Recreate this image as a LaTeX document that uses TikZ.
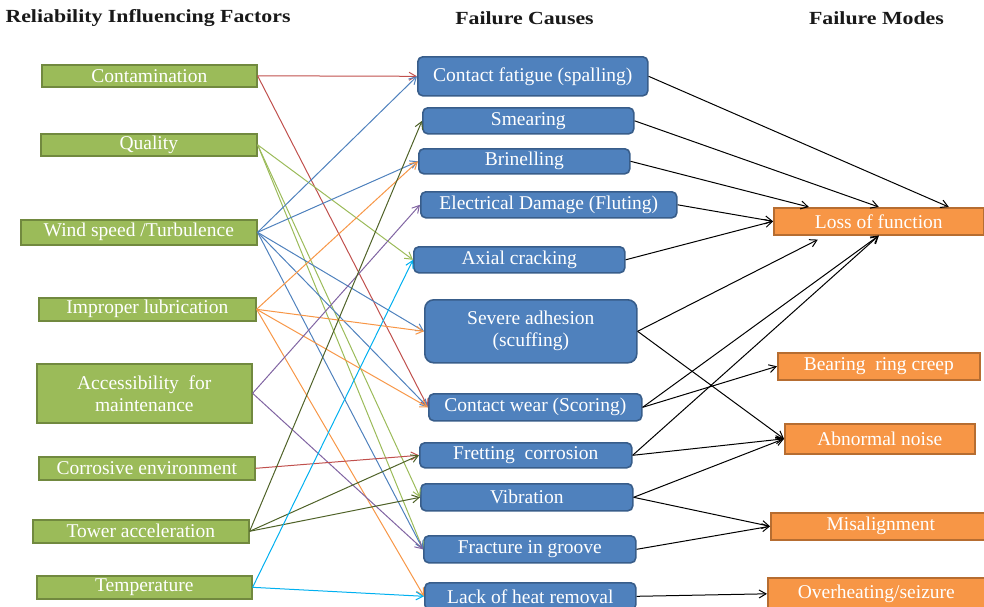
\documentclass[tikz,border=0pt]{standalone}
\usepackage{fontspec}
\setmainfont{Liberation Serif}
\usetikzlibrary{arrows.meta,calc}
\definecolor{gfill}{HTML}{9BBB59}
\definecolor{gdraw}{HTML}{71893F}
\definecolor{bfill}{HTML}{4F81BD}
\definecolor{bdraw}{HTML}{385D8A}
\definecolor{ofill}{HTML}{F79646}
\definecolor{odraw}{HTML}{B66D31}
\definecolor{cred}{HTML}{C0504D}
\definecolor{clgreen}{HTML}{9BBB59}
\definecolor{cblue}{HTML}{4F81BD}
\definecolor{corange}{HTML}{F79646}
\definecolor{cpurple}{HTML}{8064A2}
\definecolor{cdkgreen}{HTML}{4F6228}
\definecolor{ccyan}{HTML}{00B0F0}
\tikzset{
  basebox/.style={draw, line width=1.6pt, inner sep=0pt, text=white, align=center,
    anchor=north west, font=\fontsize{19.5}{22}\selectfont},
  gbox/.style={basebox, fill=gfill, draw=gdraw},
  bbox/.style={basebox, fill=bfill, draw=bdraw, rounded corners=5pt},
  obox/.style={basebox, fill=ofill, draw=odraw},
  header/.style={font=\bfseries\fontsize{18.5}{20}\selectfont, text=black!90, inner sep=0pt},
  conn/.style={line width=1pt, -{Straight Barb[length=7pt,width=8pt]}},
}
\begin{document}
\begin{tikzpicture}[x=1pt,y=-1pt]
\useasboundingbox (0,0) rectangle (984,606);
% headers
\node[header] (h1) at (148,18) {\scalebox{1.18}[1]{Reliability Influencing Factors}};
\node[header] (h2) at (524.5,18) {\scalebox{1.18}[1]{Failure Causes}};
\node[header] (h3) at (876.5,18) {\scalebox{1.18}[1]{Failure Modes}};
% left
\node[gbox, minimum width=215pt, minimum height=22pt] (cont) at (41,64) {Contamination};
\node[gbox, minimum width=216pt, minimum height=22pt] (qual) at (40,133) {Quality};
\node[gbox, minimum width=236pt, minimum height=25pt] (wind) at (20,219) {Wind speed /Turbulence};
\node[gbox, minimum width=217pt, minimum height=23pt] (lubr) at (38,297) {Improper lubrication};
\node[gbox, minimum width=215pt, minimum height=59pt] (acc) at (36,363) {Accessibility~ for\\maintenance};
\node[gbox, minimum width=216pt, minimum height=23pt] (corr) at (38,456) {Corrosive environment};
\node[gbox, minimum width=216pt, minimum height=23pt] (tower) at (32,519) {Tower acceleration};
\node[gbox, minimum width=215pt, minimum height=23pt] (temp) at (36,575) {Temperature};
% middle
\node[bbox, minimum width=230pt, minimum height=39pt] (fat) at (417,56) {Contact fatigue (spalling)};
\node[bbox, minimum width=211pt, minimum height=26pt] (smear) at (422,107) {Smearing};
\node[bbox, minimum width=211pt, minimum height=25pt] (brin) at (418,148) {Brinelling};
\node[bbox, minimum width=256pt, minimum height=26pt] (elec) at (420,191) {Electrical Damage (Fluting)};
\node[bbox, minimum width=211pt, minimum height=26pt] (axial) at (413,246) {Axial cracking};
\node[bbox, minimum width=212pt, minimum height=63pt, rounded corners=9pt] (sev) at (424,299) {Severe adhesion\\(scuffing)};
\node[bbox, minimum width=213pt, minimum height=27pt] (wear) at (428,393) {Contact wear (Scoring)};
\node[bbox, minimum width=212pt, minimum height=25pt] (fret) at (419,442) {Fretting~ corrosion};
\node[bbox, minimum width=212pt, minimum height=27pt] (vib) at (420,483) {Vibration};
\node[bbox, minimum width=212pt, minimum height=27pt] (frac) at (423,535) {Fracture in groove};
\node[bbox, minimum width=211pt, minimum height=27pt] (heat) at (424,582) {Lack of heat removal};
% right
\node[obox, minimum width=210pt, minimum height=27pt] (lof) at (773,207) {Loss of function};
\node[obox, minimum width=202pt, minimum height=27pt] (creep) at (777,352) {Bearing~ ring creep};
\node[obox, minimum width=190pt, minimum height=30pt] (noise) at (784,423) {Abnormal noise};
\node[obox, minimum width=220pt, minimum height=27pt] (mis) at (770,512) {Misalignment};
\node[obox, minimum width=225pt, minimum height=32pt] (over) at (767,577) {\hspace*{-8pt}Overheating/seizure};
% left -> middle
\draw[conn, cred] (cont.east) -- (fat.west);
\draw[conn, cred] (cont.east) -- (wear.west);
\draw[conn, clgreen] (qual.east) -- (axial.west);
\draw[conn, clgreen] (qual.east) -- (vib.west);
\draw[conn, clgreen] (qual.east) -- (frac.west);
\draw[conn, cblue] (wind.east) -- (fat.west);
\draw[conn, cblue] (wind.east) -- (brin.west);
\draw[conn, cblue] (wind.east) -- (sev.west);
\draw[conn, cblue] (wind.east) -- (wear.west);
\draw[conn, cblue] (wind.east) -- (frac.west);
\draw[conn, corange] (lubr.east) -- (brin.west);
\draw[conn, corange] (lubr.east) -- (sev.west);
\draw[conn, corange] (lubr.east) -- (wear.west);
\draw[conn, corange] (lubr.east) -- (heat.west);
\draw[conn, cpurple] (acc.east) -- (elec.west);
\draw[conn, cpurple] (acc.east) -- (frac.west);
\draw[conn, cred] (corr.east) -- (fret.west);
\draw[conn, cdkgreen] (tower.east) -- (smear.west);
\draw[conn, cdkgreen] (tower.east) -- (fret.west);
\draw[conn, cdkgreen] (tower.east) -- (vib.west);
\draw[conn, ccyan] (temp.east) -- (axial.west);
\draw[conn, ccyan] (temp.east) -- (heat.west);
% middle -> right
\draw[conn, black] (fat.east) -- ([xshift=70pt]lof.north);
\draw[conn, black] (smear.east) -- (lof.north);
\draw[conn, black] (brin.east) -- ([xshift=-70pt]lof.north);
\draw[conn, black] (elec.east) -- (lof.west);
\draw[conn, black] (axial.east) -- (lof.west);
\draw[conn, black] (sev.east) -- ([xshift=-61pt,yshift=-4pt]lof.south);
\draw[conn, black] (sev.east) -- (noise.west);
\draw[conn, black] (wear.east) -- (lof.south);
\draw[conn, black] (wear.east) -- (creep.west);
\draw[conn, black] (fret.east) -- (lof.south);
\draw[conn, black] (fret.east) -- (noise.west);
\draw[conn, black] (vib.east) -- (noise.west);
\draw[conn, black] (vib.east) -- (mis.west);
\draw[conn, black] (frac.east) -- (mis.west);
\draw[conn, black] (heat.east) -- (over.west);
\end{tikzpicture}
\end{document}
